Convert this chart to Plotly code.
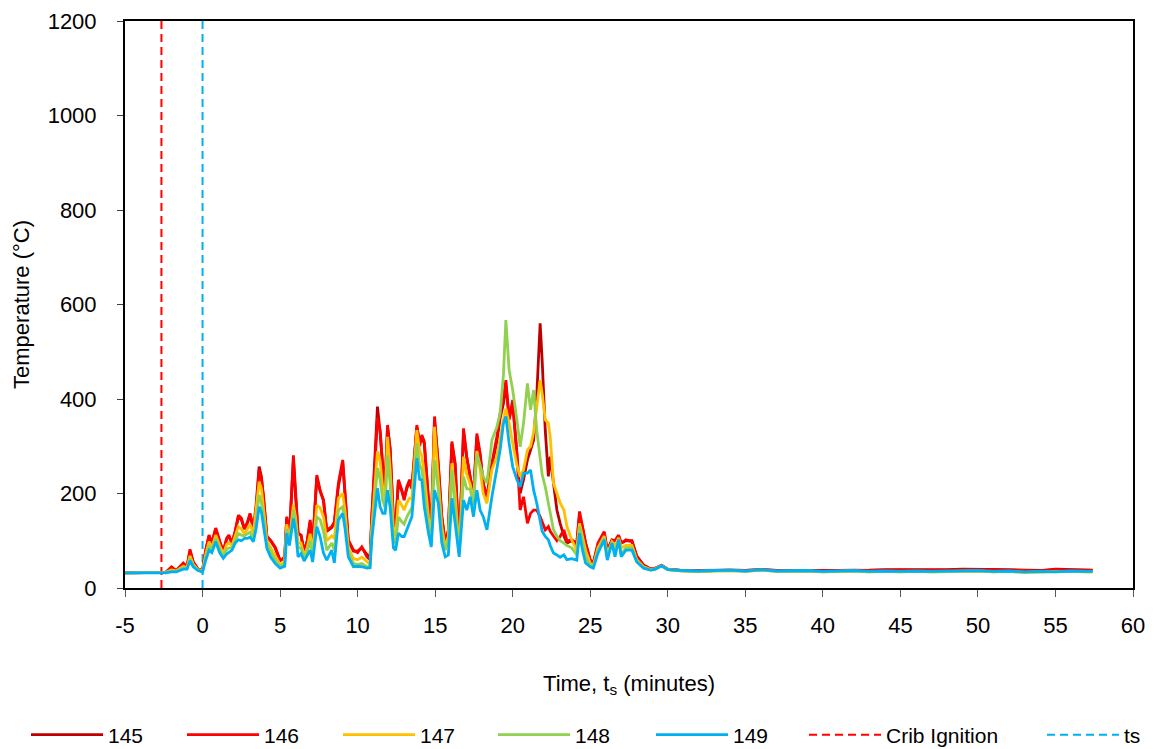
import plotly.graph_objects as go

# ---------------- data ----------------
time_min = [
    -5, -4, -3, -2.4, -2.0, -1.7, -1.24, -1.0, -0.81, -0.6,
    -0.3, 0.0, 0.2, 0.42, 0.6, 0.85, 1.1, 1.34, 1.55, 1.7,
    1.9, 2.1, 2.31, 2.5, 2.7, 2.9, 3.06, 3.28, 3.45, 3.65,
    3.8, 3.94, 4.15, 4.4, 4.68, 5.0, 5.2, 5.3, 5.43, 5.6,
    5.86, 6.0, 6.16, 6.35, 6.55, 6.75, 6.94, 7.1, 7.37, 7.58,
    7.8, 8.01, 8.33, 8.5, 8.76, 9.04, 9.2, 9.4, 9.73, 10.0,
    10.27, 10.6, 10.8, 10.91, 11.1, 11.28, 11.45, 11.62, 11.77, 11.93,
    12.1, 12.31, 12.45, 12.63, 12.85, 13.0, 13.17, 13.35, 13.5, 13.82,
    14.0, 14.14, 14.3, 14.57, 14.75, 14.96, 15.2, 15.43, 15.65, 15.85,
    16.08, 16.29, 16.55, 16.83, 17.04, 17.26, 17.47, 17.69, 17.9, 18.1,
    18.34, 18.66, 18.98, 19.19, 19.4, 19.56, 19.77, 20.0, 20.27, 20.48,
    20.7, 20.95, 21.15, 21.35, 21.55, 21.77, 21.9, 22.1, 22.3, 22.42,
    22.63, 22.85, 23.06, 23.3, 23.5, 23.8, 24.13, 24.31, 24.5, 24.7,
    25.0, 25.2, 25.5, 25.9, 26.1, 26.4, 26.6, 26.83, 27.0, 27.3,
    27.69, 28.0, 28.44, 28.9, 29.2, 29.6, 30.0,
    31, 32, 33, 34, 35, 36, 37, 38, 39, 40,
    41, 42, 43, 44, 45, 46, 47, 48, 49, 50,
    51, 52, 53, 54, 55, 56, 57, 57.4,
]

tc145 = [
    32, 32, 32, 33, 42, 37, 50, 45, 78, 55,
    40, 37, 78, 110, 95, 125, 98, 77, 103, 110,
    95, 118, 150, 145, 125, 138, 155, 125, 175, 257,
    235, 190, 109, 100, 85, 58, 62, 67, 148, 108,
    270, 195, 115, 112, 77, 98, 140, 90, 235, 205,
    185, 120, 128, 138, 215, 265, 190, 100, 78, 78,
    85, 70, 62, 145, 260, 384, 330, 255, 214, 340,
    296, 140, 130, 225, 205, 190, 210, 225, 210, 340,
    310, 320, 305, 185, 130, 355, 260, 150, 95, 120,
    305, 260, 80, 330, 275, 235, 195, 320, 280, 220,
    190, 260, 310, 360, 390, 430, 360, 390, 290, 200,
    230, 271, 292, 313, 405, 560, 482, 334, 236, 278,
    222, 165, 137, 110, 95, 100, 92, 155, 128, 95,
    58, 52, 92, 118, 80, 100, 100, 110, 95, 100,
    100, 68, 48, 40, 42, 48, 40,
    37, 37, 38, 38, 37, 39, 37, 37, 38, 37,
    38, 38, 38, 39, 39, 39, 38, 39, 40, 40,
    39, 39, 38, 37, 40, 39, 39, 38,
]

tc146 = [
    32, 32, 32, 33, 45, 37, 53, 45, 82, 55,
    40, 37, 80, 112, 95, 127, 100, 77, 105, 112,
    95, 120, 154, 148, 125, 140, 158, 129, 160, 250,
    230, 193, 109, 100, 87, 59, 62, 67, 151, 110,
    281, 200, 116, 112, 77, 100, 144, 90, 239, 207,
    186, 123, 130, 140, 222, 271, 186, 102, 80, 75,
    87, 66, 60, 151, 250, 360, 334, 257, 214, 345,
    290, 144, 130, 229, 207, 186, 214, 229, 214, 345,
    300, 324, 310, 186, 130, 363, 264, 151, 95, 123,
    310, 264, 80, 338, 278, 236, 193, 327, 285, 222,
    193, 264, 320, 370, 400, 440, 356, 398, 285, 165,
    193, 137, 158, 165, 165, 151, 140, 123, 130, 120,
    110, 100, 109, 123, 100, 102, 95, 162, 130, 95,
    60, 53, 95, 119, 80, 102, 100, 112, 95, 102,
    98, 66, 49, 40, 42, 48, 40,
    37, 36, 37, 38, 37, 39, 37, 36, 37, 36,
    37, 38, 37, 38, 38, 38, 37, 38, 39, 39,
    38, 38, 37, 36, 39, 38, 38, 37,
]

tc147 = [
    32, 32, 32, 33, 38, 36, 46, 43, 68, 50,
    39, 36, 70, 98, 85, 112, 90, 72, 92, 96,
    90, 108, 130, 125, 115, 125, 135, 115, 160, 225,
    210, 170, 100, 85, 70, 50, 52, 60, 135, 100,
    176, 150, 95, 95, 68, 85, 115, 75, 175, 170,
    150, 100, 110, 105, 190, 200, 160, 85, 62, 60,
    65, 55, 50, 125, 220, 289, 270, 210, 190, 320,
    250, 120, 110, 186, 175, 165, 180, 190, 190, 334,
    290, 280, 240, 150, 110, 341, 230, 130, 85, 110,
    264, 200, 75, 278, 240, 220, 185, 290, 250, 200,
    179, 250, 278, 320, 356, 380, 349, 306, 260, 236,
    250, 292, 300, 330, 384, 440, 412, 356, 349, 320,
    222, 200, 180, 165, 130, 102, 80, 137, 110, 80,
    52, 48, 85, 110, 72, 98, 90, 106, 85, 90,
    90, 60, 45, 39, 41, 47, 39,
    36, 35, 36, 37, 35, 38, 35, 35, 36, 34,
    35, 36, 34, 35, 34, 35, 34, 35, 35, 36,
    34, 35, 33, 34, 34, 35, 34, 34,
]

tc148 = [
    32, 32, 32, 33, 36, 35, 44, 42, 62, 48,
    38, 35, 64, 90, 80, 105, 82, 68, 82, 85,
    85, 100, 115, 112, 110, 115, 118, 105, 140, 197,
    180, 150, 92, 75, 60, 46, 48, 52, 125, 95,
    165, 140, 85, 85, 62, 78, 100, 65, 150, 145,
    120, 80, 95, 80, 165, 172, 140, 75, 52, 50,
    52, 45, 44, 112, 190, 254, 230, 185, 170, 281,
    220, 100, 95, 150, 140, 135, 150, 160, 170, 306,
    260, 250, 200, 130, 100, 270, 210, 115, 80, 100,
    250, 170, 72, 236, 210, 210, 175, 285, 260, 236,
    222, 313, 341, 370, 450, 567, 461, 419, 356, 299,
    349, 433, 377, 419, 334, 271, 240, 214, 180, 165,
    123, 110, 100, 95, 90, 85, 70, 130, 100, 65,
    48, 45, 80, 106, 66, 96, 75, 104, 72, 85,
    85, 58, 43, 38, 40, 47, 39,
    36, 35, 36, 37, 35, 38, 35, 35, 36, 34,
    35, 36, 34, 35, 34, 35, 34, 35, 35, 36,
    34, 35, 33, 34, 34, 35, 34, 34,
]

tc149 = [
    32, 32, 32, 32, 34, 34, 40, 40, 58, 45,
    37, 34, 58, 80, 75, 98, 75, 63, 72, 75,
    80, 95, 102, 100, 105, 105, 108, 98, 125, 172,
    160, 129, 84, 65, 52, 42, 44, 46, 116, 90,
    147, 120, 66, 73, 57, 70, 80, 55, 130, 109,
    74, 59, 80, 53, 144, 158, 123, 66, 45, 46,
    45, 42, 43, 102, 160, 211, 172, 158, 158, 207,
    170, 85, 80, 116, 109, 109, 123, 137, 151, 275,
    230, 229, 172, 116, 87, 207, 180, 95, 66, 70,
    190, 137, 66, 186, 165, 193, 151, 207, 165, 151,
    123, 193, 250, 292, 348, 363, 306, 257, 229, 214,
    243, 243, 250, 207, 180, 137, 120, 109, 102, 90,
    74, 70, 65, 70, 60, 62, 59, 116, 80, 53,
    45, 42, 74, 102, 59, 95, 66, 102, 66, 80,
    80, 55, 42, 38, 40, 47, 39,
    37, 36, 37, 38, 36, 39, 36, 36, 37, 35,
    36, 37, 35, 36, 35, 36, 35, 36, 36, 37,
    35, 36, 34, 35, 34, 36, 35, 35,
]

series_names = ["145", "146", "147", "148", "149"]
series_values = [tc145, tc146, tc147, tc148, tc149]
series_colors = ["#C00000", "#FF0000", "#FFC000", "#92D050", "#00B0F0"]

crib_ignition_time = [-2.65, -2.65]
ts_time = [0, 0]
marker_span = [0, 1200]

x_ticks = [-5, 0, 5, 10, 15, 20, 25, 30, 35, 40, 45, 50, 55, 60]
x_tick_text = ["-5", "0", "5", "10", "15", "20", "25", "30", "35", "40",
               "45", "50", "55", "60"]
y_ticks = [0, 200, 400, 600, 800, 1000, 1200]

# legend entry left edges (pixels in the 1154 px wide picture)
legend_x_px = [26, 182, 338, 493, 651, 804, 1042]
W, H = 1154, 749

# ---------------- figure ----------------
fig = go.Figure()
legend_ids = ["legend"] + ["legend%d" % k for k in range(2, 8)]

fig.add_trace(go.Scatter(
    x=crib_ignition_time, y=marker_span, mode="lines",
    name="Crib Ignition", legend=legend_ids[5],
    line=dict(color="#FF0000", width=2, dash="8px,5px"),
))
fig.add_trace(go.Scatter(
    x=ts_time, y=marker_span, mode="lines",
    name="ts", legend=legend_ids[6],
    line=dict(color="#00B0F0", width=2, dash="8px,5px"),
))

for i, (nm, vals, col) in enumerate(zip(series_names, series_values, series_colors)):
    fig.add_trace(go.Scatter(
        x=time_min, y=vals, mode="lines", name=nm,
        legend=legend_ids[i],
        line=dict(color=col, width=2.8),
    ))

legend_common = dict(
    orientation="h", xref="container", yref="container",
    xanchor="left", yanchor="middle", y=(H - 735) / H,
    itemwidth=72, font=dict(size=21), bgcolor="rgba(0,0,0,0)",
)
legend_layout = {}
for lid, px in zip(legend_ids, legend_x_px):
    legend_layout[lid] = dict(legend_common, x=px / W)

fig.update_layout(
    width=W, height=H,
    margin=dict(l=125, r=21, t=21, b=161, autoexpand=False),
    paper_bgcolor="white", plot_bgcolor="white",
    font=dict(family="Liberation Sans, Arial, sans-serif", size=22, color="black"),
    showlegend=True,
    xaxis=dict(
        range=[-5, 60], tickvals=x_ticks, ticktext=x_tick_text,
        ticks="outside", ticklen=7, tickwidth=1, tickcolor="#595959",
        showline=True, linecolor="black", linewidth=2, mirror=True,
        showgrid=False, zeroline=False, ticklabelstandoff=10,
        title=dict(text="Time, t<sub>s</sub> (minutes)", standoff=38,
                   font=dict(size=22)),
    ),
    yaxis=dict(
        range=[0, 1200], tickvals=y_ticks, ticks="outside", ticklen=6,
        tickwidth=1, tickcolor="#404040",
        showline=True, linecolor="black", linewidth=2, mirror=True,
        showgrid=False, zeroline=False, ticklabelstandoff=16,
        title=dict(text="Temperature (°C)", standoff=12, font=dict(size=22)),
    ),
    **legend_layout,
)

fig.write_html("out.html", config={"displayModeBar": False},
               post_script="document.body.style.margin='0px';")
